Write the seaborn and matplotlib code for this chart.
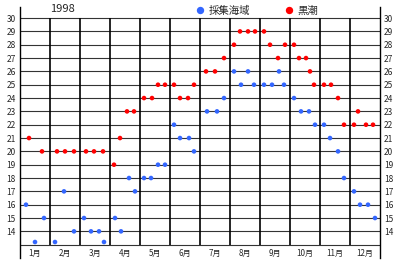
import matplotlib
matplotlib.use("Agg")
import matplotlib.pyplot as plt
import numpy as np
import pandas as pd
import seaborn as sns

# ---- data -------------------------------------------------------------
year_label = "1998"
month_labels = [f"{m}月" for m in range(1, 13)]
series_names = ["採集海域", "黒潮"]
series_colors = ["#3366ff", "#ff0000"]

# water temperature at the sampling site (month, day, °C)
site_months = [1, 1, 1, 2, 2, 2, 3, 3, 3, 3, 4, 4, 4, 4, 5, 5, 5, 5,
               6, 6, 6, 6, 7, 7, 7, 8, 8, 8, 8, 9, 9, 9, 9, 10, 10, 10, 10,
               11, 11, 11, 11, 12, 12, 12, 12]
site_days = [6, 15, 24, 5, 14, 24, 4, 11, 19, 24, 5, 11, 19, 25, 4, 11, 18, 25,
             4, 10, 19, 24, 7, 17, 24, 4, 11, 18, 24, 4, 12, 19, 24, 4, 11, 19, 25,
             4, 10, 18, 24, 4, 10, 18, 25]
site_temps = [16, 13.2, 15, 13.2, 17, 14, 15, 14, 14, 13.2, 15, 14, 18, 17,
              18, 18, 19, 19, 22, 21, 21, 20, 23, 23, 24, 26, 25, 26, 25,
              25, 25, 26, 25, 24, 23, 23, 22, 22, 21, 20, 18, 17, 16, 16, 15]

# Kuroshio water temperature (month, day, °C)
kuroshio_months = [1, 1, 2, 2, 2, 3, 3, 3, 4, 4, 4, 4, 5, 5, 5, 5, 6, 6, 6, 6,
                   7, 7, 7, 8, 8, 8, 8, 9, 9, 9, 9, 10, 10, 10, 10, 10,
                   11, 11, 11, 11, 12, 12, 12, 12]
kuroshio_days = [9, 22, 7, 15, 24, 6, 14, 23, 4, 10, 17, 24, 4, 12, 18, 25,
                 4, 10, 18, 24, 6, 15, 24, 4, 10, 18, 25, 4, 10, 18, 25,
                 4, 9, 16, 20, 24, 4, 11, 18, 24, 4, 8, 16, 23]
kuroshio_temps = [21, 20, 20, 20, 20, 20, 20, 20, 19, 21, 23, 23, 24, 24, 25, 25,
                  25, 24, 24, 25, 26, 26, 27, 28, 29, 29, 29, 29, 28, 27, 28,
                  28, 27, 27, 26, 25, 25, 25, 24, 22, 22, 23, 22, 22]

y_ticks = list(range(14, 31))


def month_position(months, days):
    # each month occupies one unit on the x axis
    return np.array(months) - 1 + np.array(days) / 30.0


df = pd.concat([
    pd.DataFrame({"pos": month_position(site_months, site_days),
                  "temp": site_temps, "series": series_names[0]}),
    pd.DataFrame({"pos": month_position(kuroshio_months, kuroshio_days),
                  "temp": kuroshio_temps, "series": series_names[1]}),
], ignore_index=True)

# ---- figure -----------------------------------------------------------
sns.set_style("white")
plt.rcParams["font.family"] = ["Noto Sans CJK JP", "DejaVu Sans"]

fig = plt.figure(figsize=(4.0, 2.67), dpi=100)
ax = fig.add_axes([0.05, 0.0337, 0.90, 0.94])

# grid: horizontal line per degree, vertical separator per month
ax.hlines(range(13, 31), 0, 12, color="#333333", lw=0.8, zorder=1)
ax.vlines(range(1, 12), 13, 30, color="black", lw=1.2, zorder=1)

sns.scatterplot(data=df, x="pos", y="temp", hue="series",
                hue_order=series_names, palette=series_colors,
                s=11, linewidth=0, ax=ax, zorder=3)

ax.set_xlim(0, 12)
ax.set_ylim(12.0, 30.83)
ax.set_xlabel("")
ax.set_ylabel("")

for side in ["top", "bottom"]:
    ax.spines[side].set_visible(False)
for side in ["left", "right"]:
    ax.spines[side].set_color("black")
    ax.spines[side].set_linewidth(1.0)

ax.set_xticks([])
ax.set_yticks(y_ticks)
ax.set_yticklabels([str(t) for t in y_ticks])
ax.tick_params(axis="y", left=False, right=False, labelleft=True,
               labelright=True, length=0, pad=3, labelsize=6)

for i, lab in enumerate(month_labels):
    ax.text(i + 0.5, 12.32, lab, ha="center", va="center", fontsize=5.8)

ax.text(1.43, 30.66, year_label, ha="center", va="center", fontsize=8)

sns.move_legend(ax, "center", bbox_to_anchor=(0.656, 0.985), ncol=2,
                frameon=False, title=None, fontsize=7.5, markerscale=1.6,
                handlelength=1.2, handletextpad=0.25, columnspacing=3.1,
                borderpad=0)

fig.savefig("out.png", dpi=100, facecolor="white")
